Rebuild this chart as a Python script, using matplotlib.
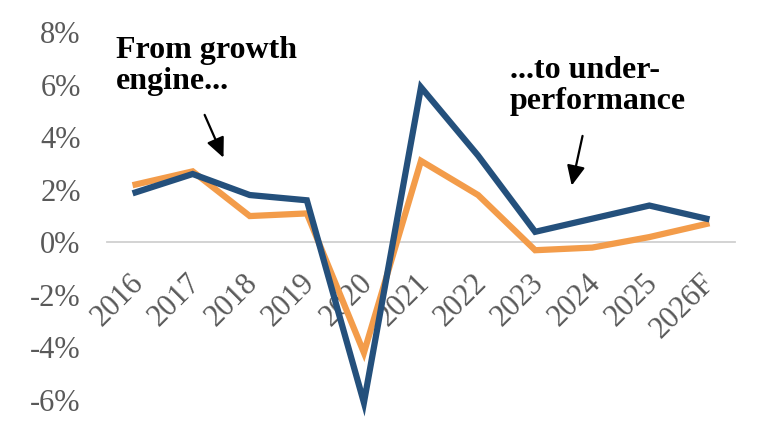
import matplotlib
matplotlib.use("Agg")
import matplotlib.pyplot as plt
import matplotlib.transforms as mtransforms

years = ["2016", "2017", "2018", "2019", "2020", "2021", "2022", "2023", "2024", "2025", "2026F"]
series_blue = [1.9, 2.6, 1.8, 1.6, -6.1, 5.9, 3.3, 0.4, 0.9, 1.4, 0.9]
series_orange = [2.2, 2.7, 1.0, 1.1, -4.2, 3.1, 1.8, -0.3, -0.2, 0.2, 0.7]
yticks = [-6, -4, -2, 0, 2, 4, 6, 8]
ytick_labels = ["-6%", "-4%", "-2%", "0%", "2%", "4%", "6%", "8%"]

plt.rcParams['font.family'] = ['Liberation Serif', 'DejaVu Serif']

fig = plt.figure(figsize=(7.7, 4.28), dpi=100)
fig.patch.set_facecolor('white')
ax = fig.add_axes([0.139, 0.0654, 0.8155, 0.8596])

x = list(range(len(years)))
ax.plot(x, series_orange, color='#F39C4A', lw=4.5, solid_joinstyle='miter', clip_on=False, zorder=3)
ax.plot(x, series_blue, color='#24507C', lw=4.5, solid_joinstyle='miter', clip_on=False, zorder=4)

ax.set_xlim(-0.5, len(years) - 0.5)
ax.set_ylim(-6, 8)

for s in ['top', 'right', 'left']:
    ax.spines[s].set_visible(False)
ax.spines['bottom'].set_position(('data', 0))
ax.spines['bottom'].set_color('#d0d0d0')
ax.spines['bottom'].set_linewidth(1.3)
ax.spines['bottom'].set_zorder(1)

ax.set_yticks(yticks)
ax.set_yticklabels(ytick_labels)
ax.tick_params(axis='y', length=0, pad=19, labelsize=22, labelcolor='#595959')

ax.set_xticks(x)
ax.set_xticklabels(years)
ax.tick_params(axis='x', length=0, pad=26, labelsize=22, labelcolor='#595959')
offset = mtransforms.ScaledTranslation(4 / 100, 0, fig.dpi_scale_trans)
for lab in ax.get_xticklabels():
    lab.set_rotation(45)
    lab.set_rotation_mode('anchor')
    lab.set_ha('right')
    lab.set_va('center')
    lab.set_transform(lab.get_transform() + offset)

ax.text(-0.35, 7.85, "From growth\nengine...", fontsize=23, fontweight='bold',
        color='black', ha='left', va='top', linespacing=1.1)
ax.text(6.56, 7.1, "...to under-\nperformance", fontsize=23, fontweight='bold',
        color='black', ha='left', va='top', linespacing=1.1)

astyle = '-|>,head_length=1.2,head_width=0.55'
ax.annotate("", xy=(1.54, 3.22), xytext=(1.21, 4.85),
            arrowprops=dict(arrowstyle=astyle, color='black', lw=1.6, shrinkA=0, shrinkB=0))
ax.annotate("", xy=(7.64, 2.16), xytext=(7.83, 4.05),
            arrowprops=dict(arrowstyle=astyle, color='black', lw=1.6, shrinkA=0, shrinkB=0))

fig.savefig("out.png", dpi=100, facecolor='white')
